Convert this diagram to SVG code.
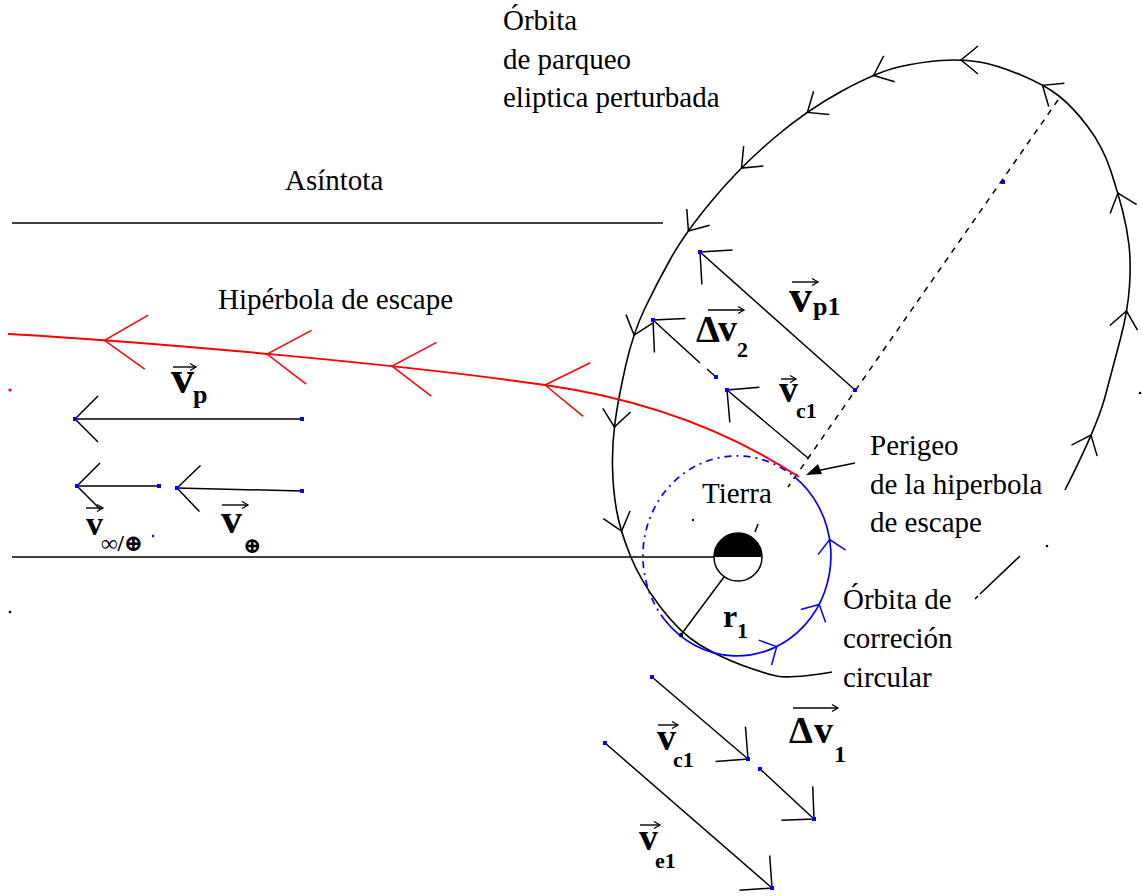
<svg xmlns="http://www.w3.org/2000/svg" width="1142" height="896" viewBox="0 0 1142 896">
<style>
.t{font-family:"Liberation Serif","DejaVu Serif",serif;font-size:29px;fill:#000}
.b{font-family:"Liberation Serif","DejaVu Serif",serif;font-weight:bold;fill:#000}
.ln{stroke:#000;stroke-width:1.5;fill:none}
.ell{stroke:#000;stroke-width:1.6;fill:none}
.hyp{stroke:#f00;stroke-width:2;fill:none}
.cs{stroke:#00f;stroke-width:1.7;fill:none}
.cd{stroke:#00f;stroke-width:1.7;fill:none;stroke-dasharray:7 5 2 5}
.dash{stroke:#000;stroke-width:1.5;fill:none;stroke-dasharray:6 6}
.vec{stroke:#000;stroke-width:1.5;fill:none;marker-end:url(#va)}
.la{stroke:#000;stroke-width:1.4;fill:none;marker-end:url(#sa)}
.ak{stroke:none;fill:none;marker-end:url(#ka)}
.ar{stroke:none;fill:none;marker-end:url(#ra)}
.ab{stroke:none;fill:none;marker-end:url(#ba)}
.dot{fill:#00f}
</style>
<defs>
<marker id="ka" viewBox="-20 -16 22 32" markerWidth="22" markerHeight="32" refX="0" refY="0" orient="auto" markerUnits="userSpaceOnUse" overflow="visible"><path d="M-17,-14 L0,0 L-17,14" fill="none" stroke="#000" stroke-width="1.5"/></marker>
<marker id="ra" viewBox="-46 -30 48 60" markerWidth="48" markerHeight="60" refX="0" refY="0" orient="auto" markerUnits="userSpaceOnUse" overflow="visible"><path d="M-42,-26 L0,0 L-42,28" fill="none" stroke="#f00" stroke-width="1.5"/></marker>
<marker id="ba" viewBox="-16 -16 18 32" markerWidth="18" markerHeight="32" refX="0" refY="0" orient="auto" markerUnits="userSpaceOnUse" overflow="visible"><path d="M-13,-14 L0,0 L-13,14" fill="none" stroke="#00f" stroke-width="1.5"/></marker>
<marker id="va" viewBox="-26 -26 28 52" markerWidth="28" markerHeight="52" refX="0" refY="0" orient="auto" markerUnits="userSpaceOnUse" overflow="visible"><path d="M-23,-23 L0,0 L-23,23" fill="none" stroke="#000" stroke-width="1.5"/></marker>
<marker id="sa" viewBox="-8 -5 9 10" markerWidth="9" markerHeight="10" refX="0" refY="0" orient="auto" markerUnits="userSpaceOnUse" overflow="visible"><path d="M-6,-3.5 L0,0 L-6,3.5" fill="none" stroke="#000" stroke-width="1.3"/></marker>
</defs>
<rect width="1142" height="896" fill="#fff"/>

<g id="connectors">
  <path class="ln" d="M12,223 L663,223"/>
  <path class="ln" d="M12,557 L714,557"/>
  <g id="elliptical-orbit">
    <path class="ell" d="M1065,490 Q1097,427 1105,397 Q1113,367 1120.5,338.5 Q1128,310 1129.5,286 Q1131,262 1129,245 Q1127,228 1122.5,210.5 Q1118,193 1110.5,170 Q1103,147 1088,127 Q1073,107 1059,96 Q1045,85 1021,75 Q997,65 979.5,62 Q962,59 941,60.5 Q920,62 898.5,67 Q877,72 842,91 Q807,110 773.5,138.5 Q740,167 712.5,200 Q685,233 671,258 Q657,283 645,308 Q633,333 625.5,366.5 Q618,400 615,422.5 Q612,445 612.5,467.5 Q613,490 616.5,510 Q620,530 630,555 Q640,580 660,606.5 Q680,633 700,645 Q720,657 741.5,665 Q763,673 776.5,676 Q790,679 832,672"/>
    <path class="ell" d="M980,594 L1020,556 M975,599 L978,596"/>
    <path class="ak" d="M1119,196 L1118,193"/>
    <path class="ak" d="M1126,314 L1126.5,311"/>
    <path class="ak" d="M1089.8,437.8 L1091,435"/>
    <path class="ak" d="M1045,87 L1042.5,85.3"/>
    <path class="ak" d="M964,60 L961,60"/>
    <path class="ak" d="M876.4,74.3 L873.6,75.5"/>
    <path class="ak" d="M809.9,110.7 L807.4,112.4"/>
    <path class="ak" d="M743.6,166 L741.5,168.1"/>
    <path class="ak" d="M690.1,228.6 L688.4,231"/>
    <path class="ak" d="M635,332.3 L634.1,335.1"/>
    <path class="ak" d="M614.8,424 L614.4,427"/>
    <path class="ak" d="M620.7,528 L621.6,531"/>
  </g>
  <path class="dash" d="M1058,100 L788,487"/>
  <g id="circular-orbit">
    <path class="cd" d="M665,620.3 A94,100 0 0 1 794.9,477.2"/>
    <path class="cs" d="M794.9,477.2 A94,100 0 1 1 665,620.3"/>
    <path class="ab" d="M774,648 L776.7,646.6"/>
    <path class="ab" d="M817.8,607.2 L819.2,604.5"/>
    <path class="ab" d="M830.2,542.5 L829.7,539.5"/>
  </g>
  <g id="hyperbola">
    <path class="hyp" d="M8,334 C150,342 400,364 545,385 C650,400 735,435 799,477"/>
    <path class="ar" d="M107.5,340.5 L104.5,340.3"/>
    <path class="ar" d="M270,354.3 L267,354"/>
    <path class="ar" d="M395,366.3 L392,366"/>
    <path class="ar" d="M548,385.4 L545,385"/>
  </g>
  <path class="ln" d="M680,636 L724,577"/>
  <path class="ln" d="M726.5,573.5 L736,561" stroke-dasharray="4 3"/>
  <circle cx="681" cy="635" r="2.2" fill="#000"/>
  <path class="ln" d="M855,463 L816,471"/>
  <polygon points="806,475 818,464 822,474" fill="#000"/>
</g>

<g id="vectors">
  <path class="vec" d="M302,419 L75,419"/>
  <path class="vec" d="M159,486 L77,486"/>
  <path class="vec" d="M302,491 L177,488"/>
  <path class="vec" d="M855,390 L700,252"/>
  <path class="vec" d="M716,377 L707,369 M700,363 L653,320"/>
  <path class="vec" d="M808,458 L727,390"/>
  <path class="vec" d="M652,677 L748,759"/>
  <path class="vec" d="M760,769 L814,819"/>
  <path class="vec" d="M605,743 L772,888"/>
  <g class="dot">
    <rect x="73" y="417" width="4" height="4"/><rect x="300" y="417" width="4" height="4"/>
    <rect x="75" y="484" width="4" height="4"/><rect x="157" y="484" width="4" height="4"/>
    <rect x="175" y="486" width="4" height="4"/><rect x="300" y="489" width="4" height="4"/>
    <rect x="698" y="250" width="4" height="4"/><rect x="853" y="388" width="4" height="4"/>
    <rect x="651" y="318" width="4" height="4"/><rect x="714" y="375" width="4" height="4"/>
    <rect x="725" y="388" width="4" height="4"/>
    <rect x="1001" y="180" width="4" height="4"/>
    <rect x="650" y="675" width="4" height="4"/><rect x="746" y="757" width="4" height="4"/>
    <rect x="758" y="767" width="4" height="4"/><rect x="812" y="817" width="4" height="4"/>
    <rect x="603" y="741" width="4" height="4"/><rect x="770" y="886" width="4" height="4"/>
    <circle cx="153" cy="536" r="1.2"/>
  </g>
</g>

<g id="earth">
  <circle cx="738" cy="557" r="24" fill="#fff" stroke="#000" stroke-width="1.5"/>
  <path d="M714,557 A24,24 0 0 1 762,557 Z" fill="#000"/>
  <path class="ln" d="M755,532 L758,524"/>
  <text class="t" x="702" y="503">Tierra</text>
  <circle cx="693" cy="520" r="1.2" fill="#000"/>
</g>

<g id="stray-marks">
  <circle cx="10" cy="390" r="1.6" fill="#f00"/>
  <circle cx="10" cy="612" r="1.3" fill="#000"/>
  <circle cx="1140" cy="393" r="1.3" fill="#000"/>
  <circle cx="1047" cy="546" r="1.3" fill="#000"/>
</g>

<g id="label-parking-orbit">
  <text class="t" x="503" y="30">Órbita</text>
  <text class="t" x="503" y="69">de parqueo</text>
  <text class="t" x="503" y="107">eliptica perturbada</text>
</g>
<g id="label-asintota"><text class="t" x="285" y="190">Asíntota</text></g>
<g id="label-hiperbola"><text class="t" x="218" y="309">Hipérbola de escape</text></g>
<g id="label-perigeo">
  <text class="t" x="870" y="455">Perigeo</text>
  <text class="t" x="870" y="494">de la hiperbola</text>
  <text class="t" x="870" y="532">de escape</text>
</g>
<g id="label-circular">
  <text class="t" x="843" y="609">Órbita de</text>
  <text class="t" x="843" y="648">correción</text>
  <text class="t" x="843" y="687">circular</text>
</g>
<g id="label-r1">
  <text class="b" x="723" y="627" font-size="32">r</text>
  <text class="b" x="737" y="638" font-size="22">1</text>
</g>

<g id="label-vp1">
  <path class="la" d="M792,282 L818,282"/>
  <text class="b" x="789" y="312" font-size="46">v</text>
  <text class="b" x="813" y="315" font-size="26">p1</text>
</g>
<g id="label-dv2">
  <path class="la" d="M708,310 L744,310"/>
  <text class="b" x="696" y="342" font-size="38">Δ</text>
  <text class="b" x="718" y="341" font-size="38">v</text>
  <text class="b" x="737" y="357" font-size="22">2</text>
</g>
<g id="label-vc1-upper">
  <path class="la" d="M781,379 L796,379"/>
  <text class="b" x="779" y="402" font-size="38">v</text>
  <text class="b" x="796" y="418" font-size="22">c1</text>
</g>
<g id="label-vp">
  <path class="la" d="M173,367 L196,367"/>
  <text class="b" x="171" y="393" font-size="46">v</text>
  <text class="b" x="193" y="403" font-size="26">p</text>
</g>
<g id="label-vinf">
  <path class="la" d="M86,508 L103,508"/>
  <text class="b" x="86" y="535" font-size="34">v</text>
  <text class="b" x="101" y="551" font-size="23">∞/⊕</text>
</g>
<g id="label-vearth">
  <path class="la" d="M222,505 L248,505"/>
  <text class="b" x="221" y="533" font-size="42">v</text>
  <text class="b" x="243" y="553" font-size="22">⊕</text>
</g>
<g id="label-dv1">
  <path class="la" d="M793,708 L838,708"/>
  <text class="b" x="789" y="743" font-size="38">Δ</text>
  <text class="b" x="814" y="743" font-size="38">v</text>
  <text class="b" x="834" y="762" font-size="24">1</text>
</g>
<g id="label-vc1-lower">
  <path class="la" d="M658,725 L678,725"/>
  <text class="b" x="657" y="750" font-size="38">v</text>
  <text class="b" x="673" y="767" font-size="22">c1</text>
</g>
<g id="label-ve1">
  <path class="la" d="M640,825 L660,825"/>
  <text class="b" x="639" y="850" font-size="38">v</text>
  <text class="b" x="655" y="868" font-size="22">e1</text>
</g>
</svg>
